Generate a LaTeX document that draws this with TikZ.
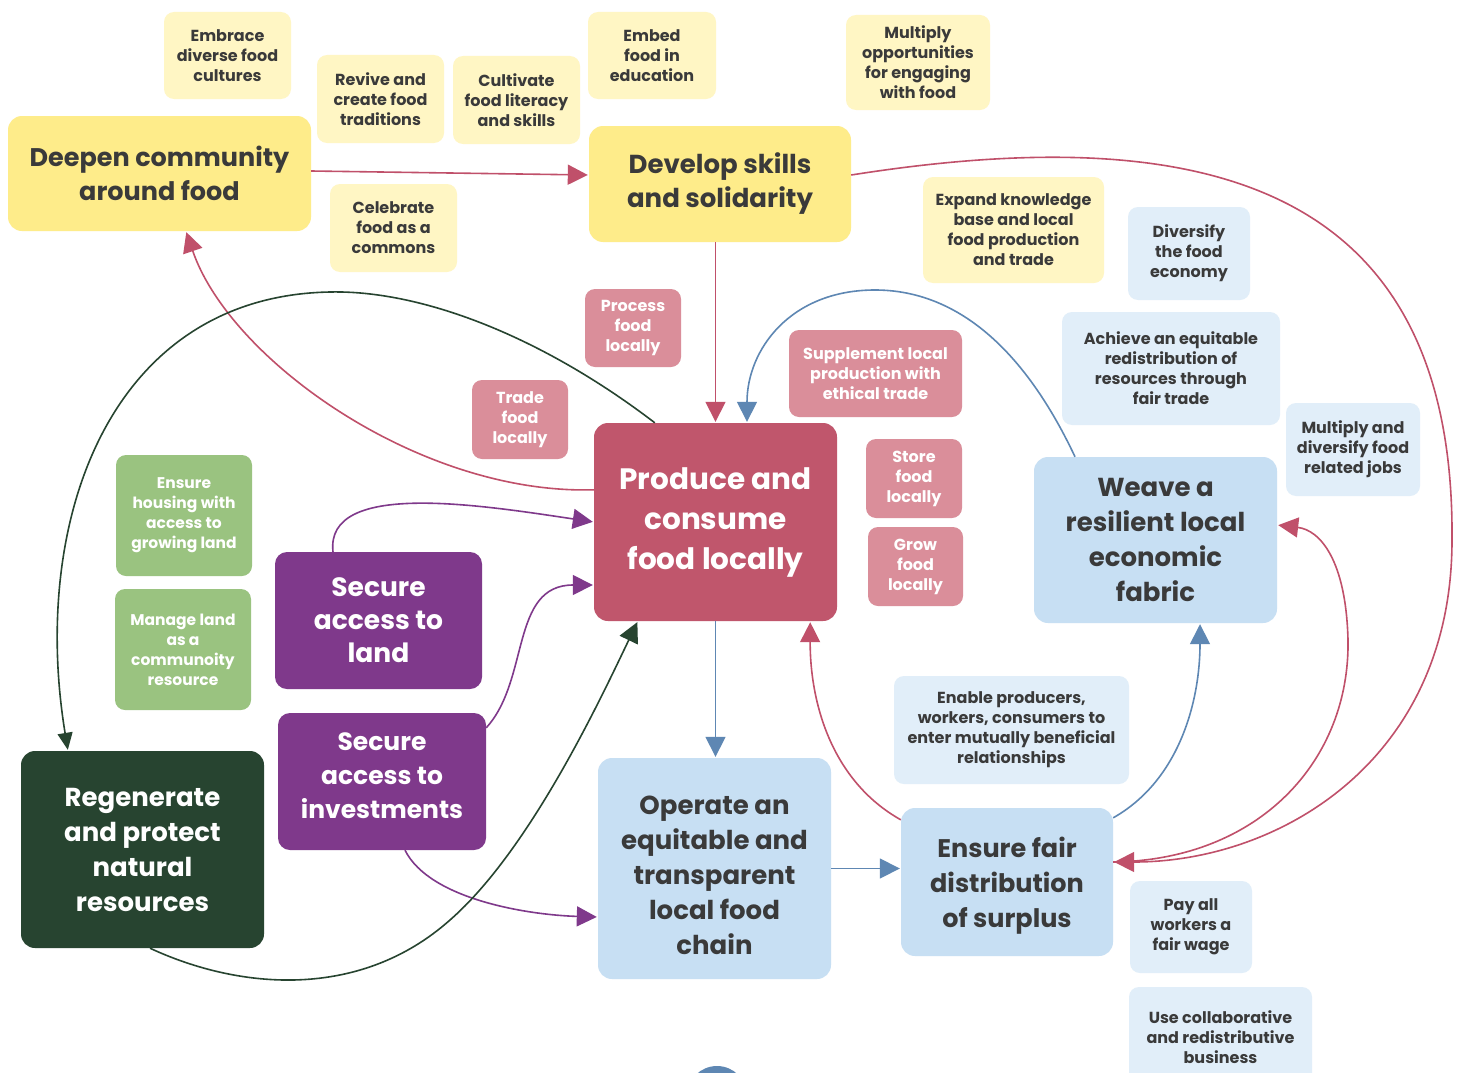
\documentclass[tikz,border=0pt]{standalone}
\usepackage{fontspec}
\setmainfont{Poppins}
\usetikzlibrary{arrows.meta,calc}
\definecolor{txt}{HTML}{3A3A3A}
\definecolor{ybig}{HTML}{FEEC8A}
\definecolor{ylight}{HTML}{FFF6C4}
\definecolor{redE}{HTML}{C0506A}
\definecolor{redbox}{HTML}{C0566C}
\definecolor{pinkbox}{HTML}{DA8E9A}
\definecolor{bbig}{HTML}{C7DFF3}
\definecolor{blight}{HTML}{E1EEF9}
\definecolor{blueE}{HTML}{5E87B3}
\definecolor{purp}{HTML}{7F398B}
\definecolor{greennote}{HTML}{9AC380}
\definecolor{dgreen}{HTML}{274430}
\begin{document}
\begin{tikzpicture}[x=1pt,y=-1pt,
  box/.style={rounded corners=10pt, align=center, inner sep=0pt},
  ynote/.style={box, fill=ylight, text=txt, font=\fontsize{16}{20}\selectfont\bfseries},
  bnote/.style={box, fill=blight, text=txt, font=\fontsize{16}{20}\selectfont\bfseries},
  pnote/.style={box, fill=pinkbox, text=white, font=\fontsize{16}{20}\selectfont\bfseries},
  gnote/.style={box, fill=greennote, text=white, font=\fontsize{15.5}{20}\selectfont\bfseries},
  ybigbox/.style={box, rounded corners=14pt, fill=ybig, text=txt, font=\fontsize{25.5}{34}\selectfont\bfseries},
  bbigbox/.style={box, rounded corners=14pt, fill=bbig, text=txt, font=\fontsize{26}{35}\selectfont\bfseries},
  btext/.style={align=center, inner sep=0pt, text=txt, font=\fontsize{26}{35}\selectfont\bfseries},
  purpbox/.style={box, rounded corners=12pt, fill=purp, text=white, font=\fontsize{26.5}{33}\selectfont\bfseries},
  ptext/.style={align=center, inner sep=0pt, text=white, font=\fontsize{25}{34}\selectfont\bfseries},
  conn/.style={line width=1.6pt},
  tipbig/.style={-{Triangle[length=20pt,width=20pt]}, shorten >=1pt},
  tipsmall/.style={-{Triangle[length=17pt,width=15pt]}, shorten >=1pt},
]
\useasboundingbox (0,0) rectangle (1461,1073);
\fill[white] (0,0) rectangle (1461,1073);

% blue dome at the bottom
\fill[blueE] (717,1096) circle (30);

% yellow small notes
\node[ynote, minimum width=127pt, minimum height=87pt] (embrace) at (227.5,55.5) {Embrace\\diverse food\\cultures};
\node[ynote, minimum width=127pt, minimum height=88pt] (revive) at (380.5,99) {Revive and\\create food\\traditions};
\node[ynote, minimum width=127pt, minimum height=88pt] (cultivate) at (516.5,100) {Cultivate\\food literacy\\and skills};
\node[ynote, minimum width=128pt, minimum height=87pt] (embed) at (652,55.5) {Embed\\food in\\education};
\node[ynote, minimum width=144pt, minimum height=95pt] (multopp) at (918,62.5) {Multiply\\opportunities\\for engaging\\with food};
\node[ynote, minimum width=127pt, minimum height=88pt] (celebrate) at (393.5,228) {Celebrate\\food as a\\commons};
\node[ynote, minimum width=181pt, minimum height=106pt] (expand) at (1013.5,230) {Expand knowledge\\base and local\\food production\\and trade};

% big yellow
\node[ybigbox, minimum width=303pt, minimum height=115pt] (deepen) at (159.5,173.5) {Deepen community\\around food};
\node[ybigbox, minimum width=262pt, minimum height=116pt, font=\fontsize{26}{34}\selectfont\bfseries] (develop) at (720,184) {Develop skills\\and solidarity};

% pink notes
\node[pnote, minimum width=96pt, minimum height=78pt] (process) at (633,328) {Process\\food\\locally};
\node[pnote, minimum width=96pt, minimum height=79pt] (trade) at (520,419.5) {Trade\\food\\locally};
\node[pnote, minimum width=173pt, minimum height=87pt] (supplement) at (875.5,373.5) {Supplement local\\production with\\ethical trade};
\node[pnote, minimum width=96pt, minimum height=79pt] (store) at (914,478.5) {Store\\food\\locally};
\node[pnote, minimum width=95pt, minimum height=79pt] (grow) at (915.5,566.5) {Grow\\food\\locally};

% produce
\node[box, rounded corners=14pt, fill=redbox, text=white, font=\fontsize{29.5}{40}\selectfont\bfseries, minimum width=243pt, minimum height=198pt] (produce) at (715.5,522) {Produce and\\consume\\food locally};

% light blue notes
\node[bnote, minimum width=122pt, minimum height=93pt] (diversify) at (1189,253.5) {Diversify\\the food\\economy};
\node[bnote, minimum width=218pt, minimum height=113pt] (achieve) at (1171,368.5) {Achieve an equitable\\redistribution of\\resources through\\fair trade};
\node[bnote, minimum width=134pt, minimum height=93pt] (multjobs) at (1353,449.5) {Multiply and\\diversify food\\related jobs};
\node[bnote, minimum width=235pt, minimum height=108pt] (enable) at (1011.5,730) {Enable producers,\\workers, consumers to\\enter mutually beneficial\\relationships};
\node[bnote, minimum width=122pt, minimum height=92pt] (pay) at (1191,927) {Pay all\\workers a\\fair wage};
\node[bnote, minimum width=183pt, minimum height=100pt] (usecollab) at (1220.5,1037) {Use collaborative\\and redistributive\\business};

% big blue
\node[bbigbox, minimum width=243pt, minimum height=166pt] (weave) at (1155.5,540) {Weave a\\resilient local\\economic\\fabric};
\node[bbigbox, minimum width=233pt, minimum height=221pt] (operate) at (714.5,868.5) {};
\node[btext] (operatetext) at ([yshift=-7pt]operate.center) {Operate an\\equitable and\\transparent\\local food\\chain};
\node[bbigbox, minimum width=212pt, minimum height=148pt] (ensure) at (1007,882) {};
\node[btext, font=\fontsize{25.5}{35}\selectfont\bfseries] (ensuretext) at ([yshift=-4pt]ensure.center) {Ensure fair\\distribution\\of surplus};

% green notes
\node[gnote, minimum width=136pt, minimum height=121pt] (housing) at (184,515.5) {Ensure\\housing with\\access to\\growing land};
\node[gnote, minimum width=136pt, minimum height=121pt] (manage) at (183,649.5) {Manage land\\as a\\communoity\\resource};

% purple
\node[purpbox, minimum width=207pt, minimum height=137pt] (secland) at (378.5,620.5) {Secure\\access to\\land};
\node[purpbox, minimum width=208pt, minimum height=137pt] (secinv) at (382,781.5) {};
\node[ptext] (secinvtext) at ([yshift=5.5pt]secinv.center) {Secure\\access to\\investments};

% dark green
\node[box, rounded corners=14pt, fill=dgreen, text=white, font=\fontsize{26}{35}\selectfont\bfseries, minimum width=243pt, minimum height=197pt] (regen) at (142.5,849.5) {Regenerate\\and protect\\natural\\resources};

% ---------- connectors ----------
% red
\draw[conn, redE, tipbig] ([yshift=2.5pt]deepen.east) -- ([yshift=9pt]develop.west);
\draw[conn, redE, tipbig] (produce.north |- develop.south) -- (produce.north);
\draw[conn, redE, tipbig] ([yshift=9pt]develop.east) .. controls (1200,120) and (1455,180) .. (1452,540)
   .. controls (1452,760) and (1280,862) .. ([yshift=20pt]ensure.east);
\draw[conn, redE, tipbig] ([yshift=20pt]ensure.east) .. controls (1260,860) and (1350,760) .. (1348,640)
   .. controls (1346,560) and (1320,530) .. ([yshift=15pt]weave.east);
\draw[conn, redE, tipbig] ([yshift=-67pt]produce.north west) .. controls (420,495) and (230,360) .. ([xshift=26.5pt]deepen.south);
\draw[conn, redE, tipbig] ([yshift=-12pt]ensure.north west) .. controls (830,780) and (810,700) .. ([xshift=-27pt]produce.south east);
% blue
\draw[conn, blueE, tipbig] (produce.south) -- (produce.south |- operate.north);
\draw[conn, blueE, tipbig] (operate.east) -- (ensure.west |- operate.east);
\draw[conn, blueE, tipbig] ([yshift=-10pt]ensure.north east) .. controls (1180,780) and (1200,700) .. ([xshift=44.5pt]weave.south);
\draw[conn, blueE, tipbig] ([xshift=-80.5pt]weave.north) .. controls (1020,340) and (950,290) .. (875,290)
   .. controls (790,290) and (747,350) .. ([xshift=31.5pt]produce.north);
% purple
\draw[conn, purp, tipbig] ([xshift=-45.5pt]secland.north) .. controls (325,480) and (480,505) .. (produce.west);
\draw[conn, purp, tipbig] ([yshift=-15pt]secinv.north east) .. controls (530,680) and (510,585) .. ([yshift=-63pt]produce.west);
\draw[conn, purp, tipbig] ([xshift=23pt]secinv.south) .. controls (430,900) and (530,915) .. ([yshift=-48.5pt]operate.west);
% dark green
\draw[conn, dgreen, tipbig] ([xshift=7.5pt]regen.south) .. controls (240,990) and (360,1000) .. (450,920)
   .. controls (530,850) and (600,700) .. ([xshift=44pt]produce.south west);
\draw[conn, dgreen, tipsmall] ([xshift=61pt]produce.north west) .. controls (540,335) and (420,290) .. (330,292)
   .. controls (110,296) and (30,520) .. ([xshift=-74.5pt]regen.north);
\end{tikzpicture}
\end{document}
